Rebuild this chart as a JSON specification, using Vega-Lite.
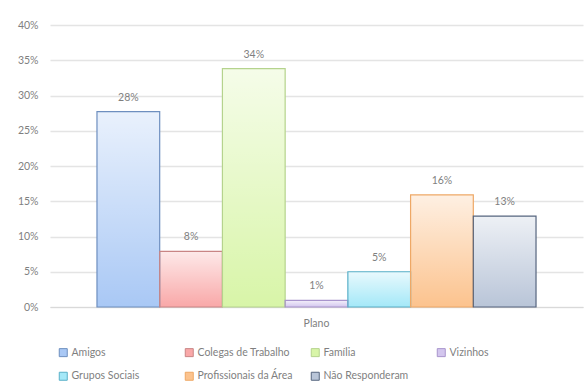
{
  "$schema": "https://vega.github.io/schema/vega-lite/v6.json",
  "autosize": {"type": "none"},
  "width": 533,
  "height": 282,
  "padding": {"left": 50, "top": 25, "right": 3, "bottom": 81},
  "background": "white",
  "config": {
    "font": "Lato",
    "view": {"stroke": null},
    "axis": {"labelColor": "#7f7f7f", "labelFont": "Lato", "labelFontSize": 10.5, "titleColor": "#7f7f7f"},
    "legend": {"labelColor": "#7f7f7f", "labelFont": "Lato", "labelFontSize": 10.5}
  },
  "data": {
    "values": [
      {"grupo": "Plano", "categoria": "Amigos", "valor": 0.277},
      {"grupo": "Plano", "categoria": "Colegas de Trabalho", "valor": 0.079},
      {"grupo": "Plano", "categoria": "Família", "valor": 0.338},
      {"grupo": "Plano", "categoria": "Vizinhos", "valor": 0.0095},
      {"grupo": "Plano", "categoria": "Grupos Sociais", "valor": 0.05},
      {"grupo": "Plano", "categoria": "Profissionais da Área", "valor": 0.159},
      {"grupo": "Plano", "categoria": "Não Responderam", "valor": 0.129}
    ]
  },
  "encoding": {
    "x": {
      "field": "grupo", "type": "nominal",
      "scale": {"paddingInner": 0, "paddingOuter": 0.107},
      "axis": {"title": null, "labelAngle": 0, "domainColor": "#d9d9d9", "ticks": false, "labelPadding": 11}
    },
    "xOffset": {
      "field": "categoria", "type": "nominal",
      "sort": ["Amigos", "Colegas de Trabalho", "Família", "Vizinhos", "Grupos Sociais", "Profissionais da Área", "Não Responderam"],
      "scale": {"paddingInner": 0, "paddingOuter": 0}
    },
    "y": {
      "field": "valor", "type": "quantitative",
      "scale": {"domain": [0, 0.4], "nice": false},
      "axis": {"title": null, "format": ".0%", "values": [0, 0.05, 0.1, 0.15, 0.2, 0.25, 0.3, 0.35, 0.4], "domain": false, "ticks": false, "labelPadding": 12, "gridColor": "#e4e4e4", "gridWidth": 1.3}
    }
  },
  "layer": [
    {
      "mark": {"type": "bar"},
      "encoding": {
        "fill": {
          "field": "categoria", "type": "nominal",
          "sort": ["Amigos", "Colegas de Trabalho", "Família", "Vizinhos", "Grupos Sociais", "Profissionais da Área", "Não Responderam"],
          "scale": {
            "domain": ["Amigos", "Colegas de Trabalho", "Família", "Vizinhos", "Grupos Sociais", "Profissionais da Área", "Não Responderam"],
            "range": ["#a9c8f5", "#f9a8a8", "#d8f5a8", "#d3c6ee", "#a4e8f8", "#fcc38e", "#b9c5d8"]
          },
          "legend": {
            "title": null, "orient": "none", "legendX": 8, "legendY": 322, "direction": "horizontal",
            "columns": 4, "gridAlign": "all", "columnPadding": 16, "rowPadding": 11,
            "symbolType": "square", "symbolSize": 64, "symbolStrokeWidth": 1, "labelOffset": 3
          }
        }
      }
    },
    {
      "mark": {
        "type": "bar",
        "fill": {"gradient": "linear", "x1": 0, "y1": 0, "x2": 0, "y2": 1, "stops": [{"offset": 0, "color": "rgba(255,255,255,0.75)"}, {"offset": 1, "color": "rgba(255,255,255,0)"}]}
      },
      "encoding": {}
    },
    {
      "mark": {"type": "bar", "fill": "transparent", "strokeWidth": 1.2},
      "encoding": {
        "stroke": {
          "field": "categoria", "type": "nominal",
          "sort": ["Amigos", "Colegas de Trabalho", "Família", "Vizinhos", "Grupos Sociais", "Profissionais da Área", "Não Responderam"],
          "scale": {
            "domain": ["Amigos", "Colegas de Trabalho", "Família", "Vizinhos", "Grupos Sociais", "Profissionais da Área", "Não Responderam"],
            "range": ["#6e8fbf", "#c98585", "#b5d38d", "#a894cc", "#5ab0c8", "#eea866", "#56657f"]
          },
          "legend": {
            "title": null, "orient": "none", "legendX": 8, "legendY": 322, "direction": "horizontal",
            "columns": 4, "gridAlign": "all", "columnPadding": 16, "rowPadding": 11,
            "symbolType": "square", "symbolSize": 64, "symbolStrokeWidth": 1, "labelOffset": 3
          }
        }
      }
    },
    {
      "mark": {"type": "text", "baseline": "middle", "dy": -14, "fontSize": 10.5, "color": "#7f7f7f", "font": "Lato"},
      "encoding": {
        "text": {"field": "valor", "type": "quantitative", "format": ".0%"}
      }
    }
  ]
}
